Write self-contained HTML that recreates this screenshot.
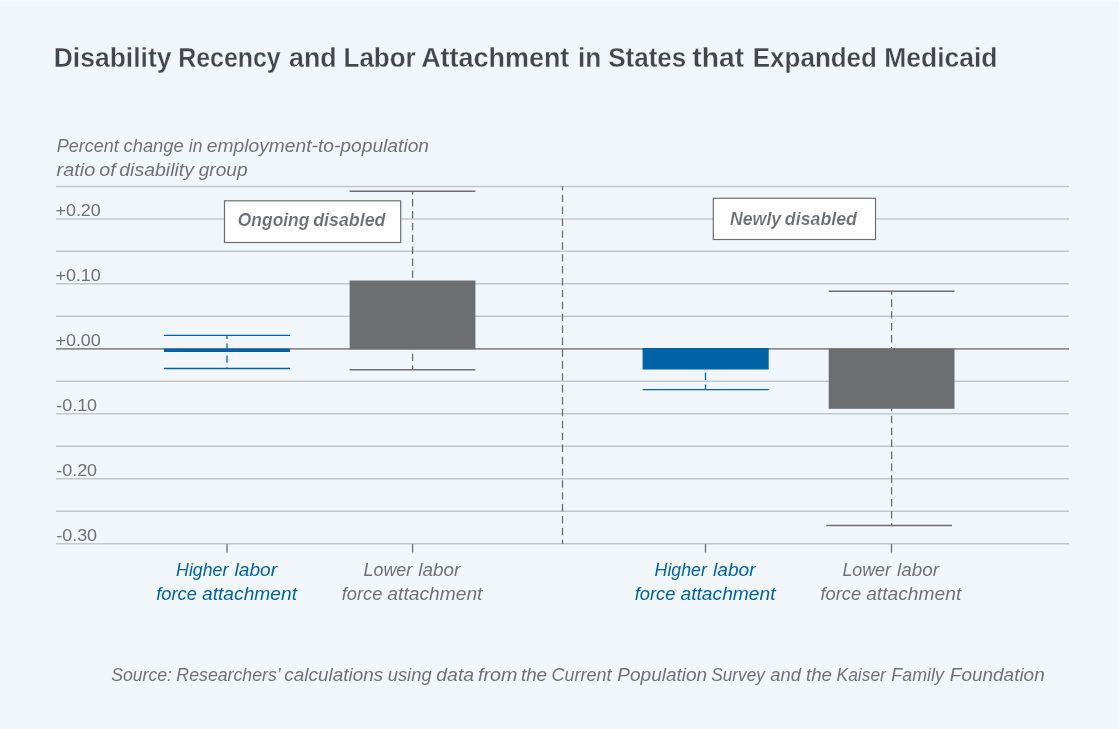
<!DOCTYPE html>
<html lang="en"><head><meta charset="utf-8"><title>Disability Recency and Labor Attachment in States that Expanded Medicaid</title>
<style>html,body{margin:0;padding:0;background:#f1f6fb;}body{width:1120px;height:729px;overflow:hidden;}svg{display:block;}text{font-family:"Liberation Sans",sans-serif;}</style>
</head><body>
<svg width="1120" height="729" viewBox="0 0 1120 729">
<rect x="0" y="0" width="1120" height="729" fill="#f1f6fb"/>
<rect x="0" y="0" width="1120" height="1.5" fill="#f4f9fd"/>
<rect x="1119" y="0" width="1" height="729" fill="#f5fafe"/>
<line x1="56" y1="186.40" x2="1069" y2="186.40" stroke="#c4c7cb" stroke-width="1.5"/>
<line x1="56" y1="218.88" x2="1069" y2="218.88" stroke="#c4c7cb" stroke-width="1.5"/>
<line x1="56" y1="251.36" x2="1069" y2="251.36" stroke="#c4c7cb" stroke-width="1.5"/>
<line x1="56" y1="283.84" x2="1069" y2="283.84" stroke="#c4c7cb" stroke-width="1.5"/>
<line x1="56" y1="316.32" x2="1069" y2="316.32" stroke="#c4c7cb" stroke-width="1.5"/>
<line x1="56" y1="381.28" x2="1069" y2="381.28" stroke="#c4c7cb" stroke-width="1.5"/>
<line x1="56" y1="413.76" x2="1069" y2="413.76" stroke="#c4c7cb" stroke-width="1.5"/>
<line x1="56" y1="446.24" x2="1069" y2="446.24" stroke="#c4c7cb" stroke-width="1.5"/>
<line x1="56" y1="478.72" x2="1069" y2="478.72" stroke="#c4c7cb" stroke-width="1.5"/>
<line x1="56" y1="511.20" x2="1069" y2="511.20" stroke="#c4c7cb" stroke-width="1.5"/>
<line x1="56" y1="543.68" x2="1069" y2="543.68" stroke="#c4c7cb" stroke-width="1.5"/>
<line x1="56" y1="348.80" x2="1069" y2="348.80" stroke="#8b8d90" stroke-width="1.8"/>
<line x1="227.0" y1="544" x2="227.0" y2="552.5" stroke="#6d6e71" stroke-width="1.3"/>
<line x1="412.6" y1="544" x2="412.6" y2="552.5" stroke="#6d6e71" stroke-width="1.3"/>
<line x1="705.5" y1="544" x2="705.5" y2="552.5" stroke="#6d6e71" stroke-width="1.3"/>
<line x1="891.5" y1="544" x2="891.5" y2="552.5" stroke="#6d6e71" stroke-width="1.3"/>
<line x1="562.5" y1="186.2" x2="562.5" y2="544.0" stroke="#6d6e71" stroke-width="1.3" stroke-dasharray="7.4 4.5" stroke-dashoffset="3.40"/>
<line x1="227.0" y1="335.3" x2="227.0" y2="368.5" stroke="#0063a6" stroke-width="1.3" stroke-dasharray="7.4 4.5" stroke-dashoffset="3.70"/>
<line x1="164.0" y1="335.3" x2="290.0" y2="335.3" stroke="#0063a6" stroke-width="1.3"/>
<line x1="164.0" y1="368.5" x2="290.0" y2="368.5" stroke="#0063a6" stroke-width="1.3"/>
<rect x="164.0" y="348.6" width="126.0" height="3.4" fill="#0063a6"/>
<line x1="412.6" y1="191.3" x2="412.6" y2="369.8" stroke="#6d6e71" stroke-width="1.3" stroke-dasharray="7.4 4.5" stroke-dashoffset="4.20"/>
<line x1="349.6" y1="191.3" x2="475.4" y2="191.3" stroke="#6d6e71" stroke-width="1.5"/>
<line x1="349.6" y1="369.8" x2="475.4" y2="369.8" stroke="#6d6e71" stroke-width="1.5"/>
<rect x="349.6" y="280.5" width="125.8" height="68.8" fill="#6d6e71"/>
<line x1="705.5" y1="369.5" x2="705.5" y2="389.7" stroke="#0063a6" stroke-width="1.3" stroke-dasharray="7.4 4.5" stroke-dashoffset="8.80"/>
<line x1="642.6" y1="348.6" x2="768.7" y2="348.6" stroke="#0063a6" stroke-width="1.3"/>
<line x1="642.6" y1="389.7" x2="768.7" y2="389.7" stroke="#0063a6" stroke-width="1.3"/>
<rect x="642.6" y="348.6" width="126.1" height="20.9" fill="#0063a6"/>
<line x1="891.6" y1="291.3" x2="891.6" y2="348.6" stroke="#6d6e71" stroke-width="1.3" stroke-dasharray="7.4 4.5" stroke-dashoffset="3.90"/>
<line x1="891.6" y1="408.8" x2="891.6" y2="525.6" stroke="#6d6e71" stroke-width="1.3" stroke-dasharray="7.4 4.5" stroke-dashoffset="4.90"/>
<line x1="828.7" y1="291.3" x2="954.5" y2="291.3" stroke="#6d6e71" stroke-width="1.5"/>
<line x1="826.2" y1="525.6" x2="952.0" y2="525.6" stroke="#6d6e71" stroke-width="1.5"/>
<rect x="828.7" y="348.6" width="125.8" height="60.2" fill="#6d6e71"/>
<rect x="224.5" y="200.8" width="176.2" height="41.7" fill="#ffffff" stroke="#6d6e71" stroke-width="1.2"/>
<rect x="713.3" y="198.3" width="162.2" height="41.2" fill="#ffffff" stroke="#6d6e71" stroke-width="1.2"/>
<text y="66.90" font-size="27.10" fill="#43464b" font-weight="bold" stroke="#f1f6fb" stroke-width="0.30" stroke-linejoin="round"><tspan x="53.74" textLength="117.77" lengthAdjust="spacingAndGlyphs">Disability</tspan> <tspan x="178.16" textLength="102.56" lengthAdjust="spacingAndGlyphs">Recency</tspan> <tspan x="289.01" textLength="47.64" lengthAdjust="spacingAndGlyphs">and</tspan> <tspan x="343.59" textLength="72.05" lengthAdjust="spacingAndGlyphs">Labor</tspan> <tspan x="421.16" textLength="148.19" lengthAdjust="spacingAndGlyphs">Attachment</tspan> <tspan x="578.00" textLength="23.28" lengthAdjust="spacingAndGlyphs">in</tspan> <tspan x="608.18" textLength="78.11" lengthAdjust="spacingAndGlyphs">States</tspan> <tspan x="692.39" textLength="51.77" lengthAdjust="spacingAndGlyphs">that</tspan> <tspan x="752.78" textLength="124.19" lengthAdjust="spacingAndGlyphs">Expanded</tspan> <tspan x="884.30" textLength="113.09" lengthAdjust="spacingAndGlyphs">Medicaid</tspan></text>
<text y="152.00" font-size="17.50" fill="#717275" font-style="italic"><tspan x="56.86" textLength="61.88" lengthAdjust="spacingAndGlyphs">Percent</tspan> <tspan x="123.59" textLength="60.09" lengthAdjust="spacingAndGlyphs">change</tspan> <tspan x="188.86" textLength="13.64" lengthAdjust="spacingAndGlyphs">in</tspan> <tspan x="206.79" textLength="222.26" lengthAdjust="spacingAndGlyphs">employment-to-population</tspan></text>
<text y="175.50" font-size="17.50" fill="#717275" font-style="italic"><tspan x="56.54" textLength="38.73" lengthAdjust="spacingAndGlyphs">ratio</tspan> <tspan x="99.29" textLength="16.45" lengthAdjust="spacingAndGlyphs">of</tspan> <tspan x="119.30" textLength="74.68" lengthAdjust="spacingAndGlyphs">disability</tspan> <tspan x="198.71" textLength="48.88" lengthAdjust="spacingAndGlyphs">group</tspan></text>
<text x="55.45" y="215.88" font-size="17.00" fill="#717275" textLength="45.37" lengthAdjust="spacingAndGlyphs">+0.20</text>
<text x="55.45" y="280.84" font-size="17.00" fill="#717275" textLength="45.37" lengthAdjust="spacingAndGlyphs">+0.10</text>
<text x="55.45" y="345.80" font-size="17.00" fill="#717275" textLength="45.37" lengthAdjust="spacingAndGlyphs">+0.00</text>
<text x="56.21" y="410.76" font-size="17.00" fill="#717275" textLength="40.89" lengthAdjust="spacingAndGlyphs">-0.10</text>
<text x="56.21" y="475.72" font-size="17.00" fill="#717275" textLength="40.89" lengthAdjust="spacingAndGlyphs">-0.20</text>
<text x="56.21" y="540.68" font-size="17.00" fill="#717275" textLength="40.89" lengthAdjust="spacingAndGlyphs">-0.30</text>
<text y="226.20" font-size="17.70" fill="#6d6e71" font-style="italic" font-weight="bold" stroke="#ffffff" stroke-width="0.15" stroke-linejoin="round"><tspan x="237.82" textLength="71.57" lengthAdjust="spacingAndGlyphs">Ongoing</tspan> <tspan x="313.17" textLength="72.27" lengthAdjust="spacingAndGlyphs">disabled</tspan></text>
<text y="225.00" font-size="17.70" fill="#6d6e71" font-style="italic" font-weight="bold" stroke="#ffffff" stroke-width="0.15" stroke-linejoin="round"><tspan x="729.97" textLength="51.21" lengthAdjust="spacingAndGlyphs">Newly</tspan> <tspan x="784.87" textLength="72.07" lengthAdjust="spacingAndGlyphs">disabled</tspan></text>
<text y="575.50" font-size="17.50" fill="#0063a6" font-style="italic"><tspan x="176.11" textLength="52.22" lengthAdjust="spacingAndGlyphs">Higher</tspan> <tspan x="234.54" textLength="42.55" lengthAdjust="spacingAndGlyphs">labor</tspan></text>
<text y="599.50" font-size="17.50" fill="#0063a6" font-style="italic"><tspan x="156.28" textLength="40.67" lengthAdjust="spacingAndGlyphs">force</tspan> <tspan x="201.99" textLength="95.04" lengthAdjust="spacingAndGlyphs">attachment</tspan></text>
<text y="575.50" font-size="17.50" fill="#0063a6" font-style="italic"><tspan x="654.61" textLength="52.22" lengthAdjust="spacingAndGlyphs">Higher</tspan> <tspan x="713.04" textLength="42.55" lengthAdjust="spacingAndGlyphs">labor</tspan></text>
<text y="599.50" font-size="17.50" fill="#0063a6" font-style="italic"><tspan x="634.78" textLength="40.67" lengthAdjust="spacingAndGlyphs">force</tspan> <tspan x="680.49" textLength="95.04" lengthAdjust="spacingAndGlyphs">attachment</tspan></text>
<text y="575.50" font-size="17.50" fill="#717275" font-style="italic"><tspan x="363.61" textLength="48.58" lengthAdjust="spacingAndGlyphs">Lower</tspan> <tspan x="418.30" textLength="42.05" lengthAdjust="spacingAndGlyphs">labor</tspan></text>
<text y="599.50" font-size="17.50" fill="#717275" font-style="italic"><tspan x="341.68" textLength="40.67" lengthAdjust="spacingAndGlyphs">force</tspan> <tspan x="387.39" textLength="95.04" lengthAdjust="spacingAndGlyphs">attachment</tspan></text>
<text y="575.50" font-size="17.50" fill="#717275" font-style="italic"><tspan x="842.41" textLength="48.58" lengthAdjust="spacingAndGlyphs">Lower</tspan> <tspan x="897.10" textLength="42.05" lengthAdjust="spacingAndGlyphs">labor</tspan></text>
<text y="599.50" font-size="17.50" fill="#717275" font-style="italic"><tspan x="820.48" textLength="40.67" lengthAdjust="spacingAndGlyphs">force</tspan> <tspan x="866.19" textLength="95.04" lengthAdjust="spacingAndGlyphs">attachment</tspan></text>
<text y="680.50" font-size="17.50" fill="#717275" font-style="italic"><tspan x="111.24" textLength="60.77" lengthAdjust="spacingAndGlyphs">Source:</tspan> <tspan x="176.37" textLength="103.47" lengthAdjust="spacingAndGlyphs">Researchers’</tspan> <tspan x="284.32" textLength="98.85" lengthAdjust="spacingAndGlyphs">calculations</tspan> <tspan x="387.70" textLength="43.95" lengthAdjust="spacingAndGlyphs">using</tspan> <tspan x="436.30" textLength="37.86" lengthAdjust="spacingAndGlyphs">data</tspan> <tspan x="477.97" textLength="39.40" lengthAdjust="spacingAndGlyphs">from</tspan> <tspan x="520.92" textLength="26.18" lengthAdjust="spacingAndGlyphs">the</tspan> <tspan x="551.46" textLength="59.93" lengthAdjust="spacingAndGlyphs">Current</tspan> <tspan x="617.32" textLength="89.84" lengthAdjust="spacingAndGlyphs">Population</tspan> <tspan x="711.26" textLength="53.75" lengthAdjust="spacingAndGlyphs">Survey</tspan> <tspan x="770.27" textLength="30.59" lengthAdjust="spacingAndGlyphs">and</tspan> <tspan x="805.92" textLength="26.18" lengthAdjust="spacingAndGlyphs">the</tspan> <tspan x="836.58" textLength="49.31" lengthAdjust="spacingAndGlyphs">Kaiser</tspan> <tspan x="891.36" textLength="52.44" lengthAdjust="spacingAndGlyphs">Family</tspan> <tspan x="949.82" textLength="94.90" lengthAdjust="spacingAndGlyphs">Foundation</tspan></text>
</svg>
</body></html>
